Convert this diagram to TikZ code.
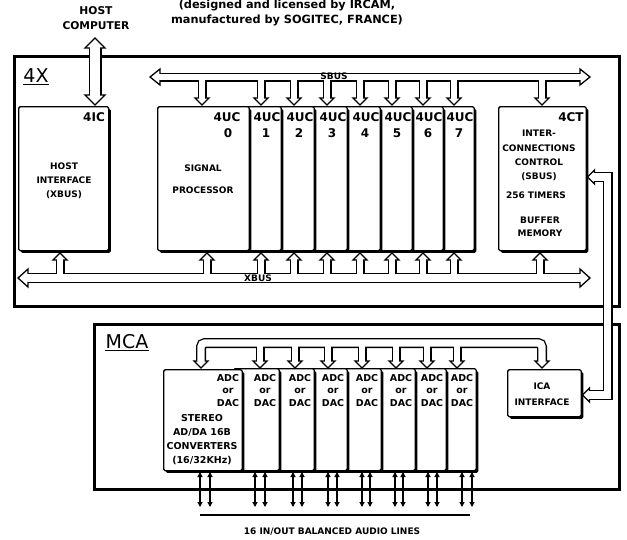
\documentclass[tikz,border=0pt]{standalone}
\usepackage{fontspec}
\setmainfont{DejaVu Sans}
\usetikzlibrary{shadows,arrows.meta,calc}
\newcommand\mkbox[6]{\node[#1, anchor=north west, minimum width={(#5)-(#3)}, minimum height={(#6)-(#4)}] (#2) at (#3,#4) {};}
\newcommand\tubetip[5]{\filldraw[fill=white,draw=black,line width=1.3pt,line join=miter,shift={(#1,#2)},rotate=#3] (0,0) -- (-#5,#4) -- (-#5,-#4) -- cycle;}
\begin{document}
\begin{tikzpicture}[x=1pt,y=-1pt,
  box/.style={draw=black, line width=1.4pt, fill=white, rounded corners=1.5pt, inner sep=0pt,
    drop shadow={shadow xshift=2.1pt, shadow yshift=-2.1pt, fill=black, opacity=1}},
  frame/.style={draw=black, line width=2.6pt, inner sep=0pt},
  tB/.style={draw=black, line width=#1},
  tW/.style={draw=white, line width=#1},
  t9/.style={font=\bfseries\fontsize{9}{14}\selectfont, align=center, inner sep=0pt},
  t95/.style={font=\bfseries\fontsize{9.5}{12.5}\selectfont, align=center, inner sep=0pt},
  t12/.style={font=\bfseries\fontsize{12}{14}\selectfont, inner sep=0pt},
  big/.style={font=\fontsize{19}{20}\selectfont, inner sep=0pt},
  audio/.style={line width=1.4pt, {Triangle[length=5pt,width=5pt]}-{Triangle[length=5pt,width=5pt]}}
]
\useasboundingbox (0,0) rectangle (627,539);
\fill[white] (0,0) rectangle (627,539);

% ---------- frames ----------
\mkbox{frame}{fx}{13}{55}{618}{305}
\mkbox{frame}{fm}{93}{323}{618}{488}
\node[big] (l4x) at (36,76) {4X};
\draw[line width=1.2pt] ($(l4x.south west)+(0,1.5)$) -- ($(l4x.south east)+(0,1.5)$);
\node[big] (lmca) at (127,342) {MCA};
\draw[line width=1.2pt] ($(lmca.south west)+(0,1.5)$) -- ($(lmca.south east)+(0,1.5)$);

% ---------- 4X boxes ----------
\mkbox{box}{ic}{18}{106}{108}{250}
\foreach \k/\r/\p in {7/475/444, 6/444/413, 5/413/381, 4/381/348, 3/348/315, 2/315/282, 1/282/250}{
  \mkbox{box}{u\k}{\p-10}{106}{\r-1.5}{250}
  \node[t12] (h\k) at (\r-15,117) {4UC};
  \node[t12] (n\k) at (\r-16,133) {\k};
}
\mkbox{box}{u0}{157}{106}{248.5}{250}
\mkbox{box}{ct}{498}{106}{585.5}{250}

\node[t12] (hic) at (94,117) {4IC};
\node[t9] (tic) at (64,181) {HOST\\INTERFACE\\(XBUS)};
\node[t12] (h0) at (227,117) {4UC};
\node[t12] (n0) at (228,133) {0};
\node[t9, font=\bfseries\fontsize{9}{22}\selectfont] (tsp) at (203,179) {SIGNAL\\PROCESSOR};
\node[t12] (hct) at (571,117) {4CT};
\node[t9, font=\bfseries\fontsize{9}{14.3}\selectfont] (tct1) at (539,155.5) {INTER-\\CONNECTIONS\\CONTROL\\(SBUS)};
\node[t9] (tct2) at (536,195) {256 TIMERS};
\node[t9, font=\bfseries\fontsize{9}{13}\selectfont] (tct3) at (540,226.5) {BUFFER\\MEMORY};

% ---------- MCA boxes ----------
\foreach \k/\r/\p in {7/477/447, 6/447/416, 5/416/382, 4/382/348, 3/348/315, 2/315/280, 1/280/243}{
  \mkbox{box}{a\k}{\p-10}{368}{\r-1.5}{470}
  \node[t95] (ta\k) at (\r-15,390.5) {ADC\\or\\DAC};
}
\mkbox{box}{a0}{163}{369}{241.5}{470}
\mkbox{box}{ica}{507}{369}{580.5}{416}
\node[t95] (ta0) at (228,390.5) {ADC\\or\\DAC};
\node[t95, font=\bfseries\fontsize{9.5}{13.8}\selectfont] (tst) at (202,439.5) {STEREO\\AD/DA 16B\\CONVERTERS\\(16/32KHz)};
\node[t9, font=\bfseries\fontsize{9}{16}\selectfont] (tica) at (542,394) {ICA\\INTERFACE};

% ---------- tubes: black ----------
\def\sbx{202/105, 261/105, 294/105, 327/105, 360/105, 392/105, 423/105, 454/105, 542/105}
\def\xbx{60/253, 207/253, 261/253, 294/253, 327/253, 360/253, 392/253, 423/253, 454/253, 540/253}
\def\mcx{260, 295, 328, 362, 396, 427, 457}
\coordinate (sbL) at (150,77); \coordinate (sbR) at (590,77);
\coordinate (xbL) at (18,278); \coordinate (xbR) at (590,278);
\coordinate (hostT) at (95,38);

\draw[tB=9pt] ($(sbL)+(8,0)$) -- ($(sbR)+(-8,0)$);
\foreach \x/\y in \sbx {\draw[tB=9pt] (\x,77) -- (\x,\y-5);}
\draw[tB=10pt] ($(xbL)+(8,0)$) -- ($(xbR)+(-8,0)$);
\foreach \x/\y in \xbx {\draw[tB=9pt] (\x,278) -- (\x,\y+5);}
\draw[tB=13pt] ($(hostT)+(0,8)$) -- (95,97);
\draw[tB=10pt, line join=miter] (592.5,177) -- (607.5,177) -- (607.5,395) -- (587.5,395);
\draw[tB=10pt, rounded corners=4pt] (201,363) -- (201,343) -- (542,343) -- (542,363);
\foreach \x in \mcx {\draw[tB=9pt] (\x,343) -- (\x,363);}

% ---------- tube tips ----------
\tubetip{150}{77}{180}{8}{10}
\tubetip{590}{77}{0}{8}{10}
\foreach \x/\y in \sbx {\tubetip{\x}{\y}{270}{7}{7}}
\tubetip{18}{278}{180}{9}{10}
\tubetip{590}{278}{0}{9}{10}
\foreach \x/\y in \xbx {\tubetip{\x}{\y}{90}{7}{7}}
\tubetip{95}{38}{90}{10}{10}
\tubetip{95}{105}{270}{10}{10}
\tubetip{587.5}{177}{180}{7}{7}
\tubetip{582.5}{395}{180}{7}{7}
\tubetip{201}{368}{270}{7}{7}
\tubetip{542}{368}{270}{7}{7}
\foreach \x in \mcx {\tubetip{\x}{368}{270}{7}{7}}

% ---------- tubes: white interiors ----------
\draw[tW=6.4pt] ($(sbL)+(8,0)$) -- ($(sbR)+(-8,0)$);
\foreach \x/\y in \sbx {\draw[tW=6.4pt] (\x,77) -- (\x,\y-5);}
\draw[tW=7.4pt] ($(xbL)+(8,0)$) -- ($(xbR)+(-8,0)$);
\foreach \x/\y in \xbx {\draw[tW=6.4pt] (\x,278) -- (\x,\y+5);}
\draw[tW=10.4pt] ($(hostT)+(0,8)$) -- (95,97);
\draw[tW=7.4pt, line join=miter] (592.5,177) -- (607.5,177) -- (607.5,395) -- (587.5,395);
\draw[tW=7.4pt, rounded corners=4pt] (201,363) -- (201,343) -- (542,343) -- (542,363);
\foreach \x in \mcx {\draw[tW=6.4pt] (\x,343) -- (\x,363);}

\node[t9] (lsb) at (334,76.5) {SBUS};
\node[t9] (lxb) at (258,278) {XBUS};

% ---------- audio lines ----------
\foreach \x in {200,210,255,265,293,302,328,337,362,370,395,403,428,437,462,472}{
  \draw[audio] (\x,472) -- (\x,507);
}
\coordinate (blL) at (200,515); \coordinate (blR) at (470,515);
\draw[line width=1.5pt] (blL) -- (blR);
\node[t9] (laud) at (332,532) {16 IN/OUT BALANCED AUDIO LINES};

% ---------- top texts ----------
\node[t9, font=\bfseries\fontsize{10.7}{15}\selectfont] (host) at (96,18.5) {HOST\\COMPUTER};
\node[t9, font=\bfseries\fontsize{11.3}{15}\selectfont] (mfr) at (287,13) {(designed and licensed by IRCAM,\\manufactured by SOGITEC, FRANCE)};
\end{tikzpicture}
\end{document}
